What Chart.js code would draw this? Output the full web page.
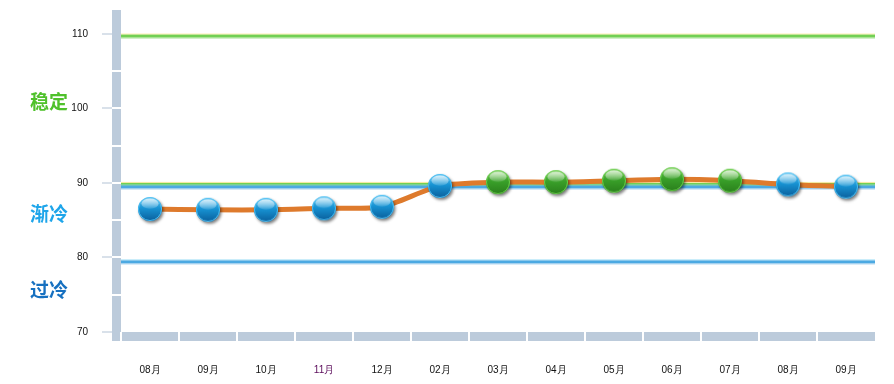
<!DOCTYPE html>
<html>
<head>
<meta charset="utf-8">
<script src="https://cdn.jsdelivr.net/npm/chart.js@4.4.1/dist/chart.umd.min.js"></script>
<style>
  html, body { margin: 0; padding: 0; background: #fff; }
  #wrap { width: 894px; height: 384px; }
</style>
</head>
<body>
<div id="wrap"><canvas id="c" width="894" height="384"></canvas></div>
<script>
// ---- data ----
const months = ["08月", "09月", "10月", "11月", "12月", "02月", "03月", "04月", "05月", "06月", "07月", "08月", "09月"];
const values = [86.5, 86.4, 86.4, 86.6, 86.8, 89.6, 90.1, 90.1, 90.3, 90.5, 90.3, 89.8, 89.5];
const yTicks = [70, 80, 90, 100, 110];
const refValues = [109.7, 89.8, 89.45, 79.4];
const refKinds = ["green", "green", "blue", "blue"];
const zoneNames = ["稳定", "渐冷", "过冷"];
const zoneAt = [100.9, 85.9, 75.6];
const zoneColors = ["#4fc12b", "#1ea5ea", "#1670c0"];
const greenFrom = 90;

// -------- glossy point images --------
function ball(top, mid, dark, rim) {
  const cv = document.createElement("canvas");
  cv.width = 34; cv.height = 34;
  const g = cv.getContext("2d");
  const cx = 17, cy = 17, r = 12;
  g.save();
  g.shadowColor = "rgba(0,0,0,0.5)";
  g.shadowBlur = 3;
  g.shadowOffsetX = 1.5;
  g.shadowOffsetY = 2;
  const grad = g.createLinearGradient(0, cy - r, 0, cy + r);
  grad.addColorStop(0, top);
  grad.addColorStop(0.45, mid);
  grad.addColorStop(1, dark);
  g.beginPath();
  g.arc(cx, cy, r, 0, Math.PI * 2);
  g.fillStyle = grad;
  g.fill();
  g.restore();
  g.beginPath();
  g.arc(cx, cy, r - 0.5, 0, Math.PI * 2);
  g.lineWidth = 1;
  g.strokeStyle = rim;
  g.stroke();
  // highlight
  const hl = g.createLinearGradient(0, cy - r, 0, cy);
  hl.addColorStop(0, "rgba(255,255,255,0.85)");
  hl.addColorStop(1, "rgba(255,255,255,0.1)");
  g.beginPath();
  g.ellipse(cx, cy - r * 0.45, r * 0.72, r * 0.42, 0, 0, Math.PI * 2);
  g.fillStyle = hl;
  g.fill();
  return cv;
}
const blueBall = ball("#6cc9f2", "#1894d4", "#0a5f9c", "#4cc0f4");
const greenBall = ball("#7fd060", "#3aa12a", "#2a7f1c", "#6bd04c");

// -------- background bands, reference lines, zone text --------
const decor = {
  id: "decor",
  beforeDatasetsDraw(chart) {
    const { ctx, chartArea: a, scales: { x, y } } = chart;
    ctx.save();
    // left band
    ctx.fillStyle = "#bccbdb";
    ctx.fillRect(a.left - 9, a.top, 9, a.bottom - a.top + 9);
    // bottom band
    ctx.fillRect(a.left, a.bottom, a.right - a.left, 9);
    ctx.fillStyle = "#ffffff";
    for (let v = 75; v <= 105; v += 5) {
      ctx.fillRect(a.left - 9, Math.round(y.getPixelForValue(v)) - 1, 9, 2);
    }
    const w = (a.right - a.left) / months.length;
    for (let i = 0; i < months.length; i++) {
      ctx.fillRect(Math.round(a.left + i * w) - 1, a.bottom, 2, 9);
    }
    // reference lines
    refValues.forEach((v, i) => {
      const py = y.getPixelForValue(v);
      if (refKinds[i] === "green") {
        ctx.fillStyle = "rgba(255,230,140,0.8)";
        ctx.fillRect(a.left, py - 2.5, a.right - a.left, 1);
        ctx.fillStyle = "#72d054";
        ctx.fillRect(a.left, py - 1.5, a.right - a.left, 3);
        ctx.fillStyle = "rgba(160,225,140,0.8)";
        ctx.fillRect(a.left, py + 1.5, a.right - a.left, 1);
      } else {
        ctx.fillStyle = "rgba(140,215,245,0.8)";
        ctx.fillRect(a.left, py - 2.5, a.right - a.left, 1);
        ctx.fillStyle = "#4ca9e2";
        ctx.fillRect(a.left, py - 1.5, a.right - a.left, 3);
        ctx.fillStyle = "rgba(150,200,235,0.8)";
        ctx.fillRect(a.left, py + 1.5, a.right - a.left, 1);
      }
    });
    ctx.restore();
  },
  afterDraw(chart) {
    const { ctx, scales: { y } } = chart;
    ctx.save();
    ctx.font = "bold 19px 'Noto Sans CJK SC'";
    ctx.textBaseline = "middle";
    ctx.textAlign = "left";
    zoneNames.forEach((t, i) => {
      ctx.fillStyle = zoneColors[i];
      ctx.fillText(t, 30, y.getPixelForValue(zoneAt[i]));
    });
    ctx.restore();
  }
};

new Chart(document.getElementById("c"), {
  type: "line",
  data: {
    labels: months,
    datasets: [{
      data: values,
      borderColor: "#de7a2c",
      borderWidth: 5,
      tension: 0.25,
      fill: false,
      pointStyle: ctx => (values[ctx.dataIndex] >= greenFrom ? greenBall : blueBall),
      pointRadius: 12
    }]
  },
  options: {
    responsive: false,
    animation: false,
    events: [],
    layout: { autoPadding: false, padding: { top: 10, right: 19, left: 0, bottom: 0 } },
    plugins: { legend: { display: false }, tooltip: { enabled: false } },
    scales: {
      x: {
        offset: true,
        grid: { display: false, offset: true },
        border: { display: false },
        ticks: {
          padding: 24,
          color: months.map((m, i) => (i === 3 ? "#5a0a5a" : "#111")),
          font: { family: "'Liberation Sans'", size: 10 }
        },
        afterFit(s) { s.height = 52; s.paddingLeft = 0; s.paddingRight = 0; }
      },
      y: {
        min: 70,
        max: 113.2,
        afterBuildTicks(s) { s.ticks = yTicks.map(v => ({ value: v })); },
        grid: { drawOnChartArea: false, drawTicks: true, tickLength: 19, color: "#d9e1ea", lineWidth: 2 },
        border: { display: false },
        ticks: {
          padding: 14,
          color: "#111",
          font: { family: "'Liberation Sans'", size: 10 }
        },
        afterFit(s) { s.width = 121; s.paddingTop = 0; s.paddingBottom = 0; }
      }
    }
  },
  plugins: [decor]
});
</script>
</body>
</html>
